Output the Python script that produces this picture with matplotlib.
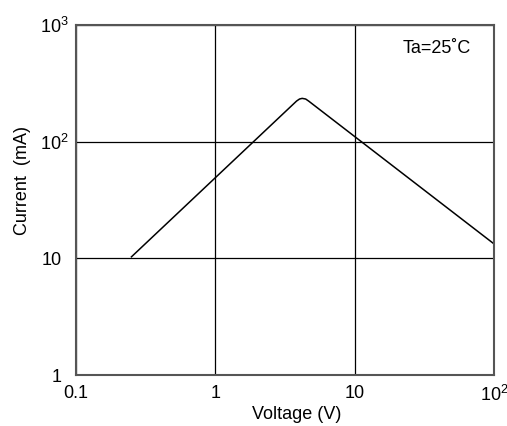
import matplotlib
matplotlib.use("Agg")
import matplotlib.pyplot as plt
from matplotlib.transforms import ScaledTranslation

plt.rcParams['font.family'] = ['Liberation Sans', 'DejaVu Sans']
plt.rcParams['mathtext.fontset'] = 'custom'
plt.rcParams['mathtext.rm'] = 'Liberation Sans'

voltage = [0.25, 3.83, 4.02, 4.2, 4.45, 4.67, 100.0]
current = [10.3, 223.0, 232.0, 235.0, 232.0, 223.0, 13.3]

x_ticks = [0.1, 1, 10, 100]
x_labels = ['0.1', '1', '10', r'$\mathregular{10^2}$']
y_ticks = [1, 10, 100, 1000]
y_labels = ['1', '10', r'$\mathregular{10^2}$', r'$\mathregular{10^3}$']

fig = plt.figure(figsize=(5.07, 4.26), dpi=100)
ax = fig.add_axes([76/507, 51/426, 418/507, 350/426])
ax.set_xscale('log')
ax.set_yscale('log')
ax.set_xlim(0.1, 100)
ax.set_ylim(1, 1000)

ax.plot(voltage, current, color='black', lw=1.1, solid_joinstyle='round')

ax.set_xticks(x_ticks)
ax.set_xticklabels(x_labels)
ax.set_yticks(y_ticks)
ax.set_yticklabels(y_labels)
ax.minorticks_off()
ax.tick_params(axis='both', length=0, labelsize=13)
ax.tick_params(axis='x', pad=7)
ax.tick_params(axis='y', pad=10)
for lab in ax.get_yticklabels():
    if '^' in lab.get_text():
        lab.set_transform(lab.get_transform() + ScaledTranslation(7/100, 0, fig.dpi_scale_trans))
ax.grid(True, which='major', color='black', lw=0.9)
for s in ax.spines.values():
    s.set_color('#555555')
    s.set_linewidth(1.5)

ax.set_xlabel('Voltage (V)', fontsize=13, va='center')
ax.xaxis.set_label_coords(0.527, -0.114)
ax.set_ylabel('Current  (mA)', fontsize=13, va='center')
ax.yaxis.set_label_coords(-0.129, 0.557)

ax.text(0.945, 0.934, 'Ta=25˚C', transform=ax.transAxes, ha='right', va='center', fontsize=13)

fig.savefig('out.png', dpi=100)
